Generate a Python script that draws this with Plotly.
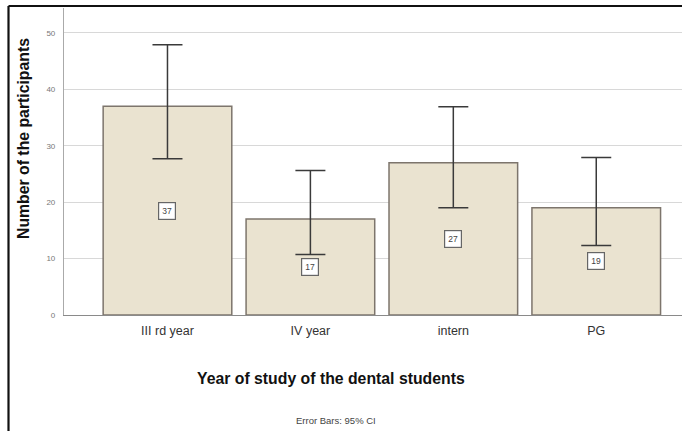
import plotly.graph_objects as go

# Participants per year of study, with 95% confidence limits
categories = ["III rd year", "IV year", "intern", "PG"]
counts = [37, 17, 27, 19]
ci_low = [27.7, 10.7, 19.0, 12.3]
ci_high = [47.9, 25.6, 36.9, 27.9]

err_plus = [h - c for h, c in zip(ci_high, counts)]
err_minus = [c - l for c, l in zip(counts, ci_low)]

W, H = 682, 431
ML, MR, MT, MB = 64, 0, 8, 116
PW, PH = W - ML - MR, H - MT - MB

def px_x(x):
    return (x - ML) / PW

def px_y(y):
    return (H - MB - y) / PH

font_family = "Liberation Sans, Arial, Helvetica, sans-serif"

fig = go.Figure()
fig.add_trace(go.Bar(
    x=list(range(len(categories))),
    y=counts,
    marker=dict(color="#EAE3D0", line=dict(color="#7d756c", width=1.5)),
    width=0.9,
    error_y=dict(type="data", symmetric=False, array=err_plus, arrayminus=err_minus,
                 color="#3a3a3a", thickness=1.5, width=15),
    hoverinfo="skip",
))

annotations = []
for i, c in enumerate(counts):
    annotations.append(dict(
        x=i, y=c / 2, xref="x", yref="y", text=str(c), showarrow=False,
        font=dict(family=font_family, size=8.5, color="#444"),
        bgcolor="white", bordercolor="#666", borderwidth=1.2, borderpad=3,
    ))

annotations += [
    dict(x=px_x(23), y=px_y(139), xref="paper", yref="paper",
         text="<b>Number of the participants</b>", textangle=-90, showarrow=False,
         font=dict(family=font_family, size=15.8, color="#111"),
         xanchor="center", yanchor="middle"),
    dict(x=px_x(331), y=px_y(378), xref="paper", yref="paper",
         text="<b>Year of study of the dental students</b>", showarrow=False,
         font=dict(family=font_family, size=15.8, color="#111"),
         xanchor="center", yanchor="middle"),
    dict(x=px_x(336), y=px_y(420), xref="paper", yref="paper",
         text="Error Bars: 95% CI", showarrow=False,
         font=dict(family=font_family, size=9.5, color="#444"),
         xanchor="center", yanchor="middle"),
]

shapes = [
    # outer frame: top and left edges
    dict(type="line", xref="paper", yref="paper",
         x0=px_x(8.5), x1=px_x(W + 2), y0=px_y(6), y1=px_y(6),
         line=dict(color="#111", width=2.2)),
    dict(type="line", xref="paper", yref="paper",
         x0=px_x(8.5), x1=px_x(8.5), y0=px_y(6), y1=px_y(H + 2),
         line=dict(color="#111", width=2.2)),
]

fig.update_layout(
    width=W, height=H,
    margin=dict(l=ML, r=MR, t=MT, b=MB, pad=0),
    paper_bgcolor="white", plot_bgcolor="white",
    showlegend=False,
    bargap=0.1,
    font=dict(family=font_family),
    annotations=annotations,
    shapes=shapes,
    xaxis=dict(
        tickmode="array", tickvals=list(range(len(categories))), ticktext=categories,
        range=[-0.724, 3.6], showgrid=False, zeroline=False,
        showline=True, linecolor="#8a8a8a", linewidth=1.2,
        ticks="", tickfont=dict(size=12.5, color="#333"), ticklabelstandoff=4,
    ),
    yaxis=dict(
        range=[0, 54.4], tickvals=[0, 10, 20, 30, 40, 50],
        showgrid=True, gridcolor="#d8d8d8", gridwidth=1,
        zeroline=False, showline=True, linecolor="#aaaaaa", linewidth=1.2,
        ticks="", tickfont=dict(size=8, color="#777"), ticklabelstandoff=6,
    ),
)

fig.write_html("out.html")
